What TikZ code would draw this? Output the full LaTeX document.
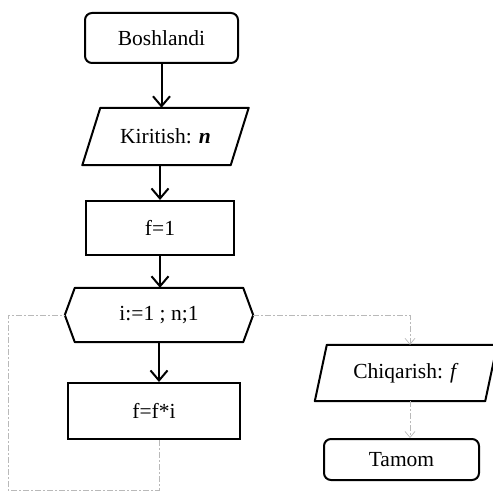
\documentclass[tikz,border=0pt]{standalone}
\usepackage{fontspec}
\setmainfont{Liberation Serif}
\usetikzlibrary{arrows.meta}
\begin{document}
\begin{tikzpicture}[x=1pt,y=-1pt,
  every node/.style={font=\fontsize{21.5}{25}\selectfont, inner sep=0pt},
  blk/.style={draw, line width=2pt, minimum width=#1},
  blk/.default=148pt,
  term/.style={draw, line width=2pt, rounded corners=7pt},
  ghost/.style={draw=none},
  shp/.style={line width=2pt, line join=round},
  arr/.style={line width=2pt, -{Straight Barb[length=10pt,width=17pt,line width=2pt]}},
  dsh/.style={gray!55, line width=0.7pt, dash pattern=on 6pt off 2pt on 2pt off 2pt},
  darr/.style={dsh, -{Straight Barb[length=6pt,width=10pt,line width=0.7pt]}}]
\useasboundingbox (0,0) rectangle (493,492);

\node[term, minimum width=153pt, minimum height=50pt] (start) at (161.5,38) {Boshlandi};
\node[ghost, minimum width=148pt, minimum height=57pt] (kir) at (165.5,136.5) {Kiritish: \textbf{\textit{n}}};
\node[blk, minimum height=54pt] (f1) at (160,228) {f=1};
\node[ghost, minimum width=168pt, minimum height=54pt] (loop) at (159,315) {i:=1 ; n;1};
\node[blk=172pt, minimum height=56pt] (body) at (154,411) {f=f*i};
\node[ghost, minimum width=170pt, minimum height=56pt] (out) at (406,373) {Chiqarish: \textit{f}};
\node[term, minimum width=155pt, minimum height=41pt] (end) at (401.5,459.5) {Tamom};

% parallelograms
\draw[shp] ([xshift=9pt]kir.north west) -- ([xshift=9pt]kir.north east) -- ([xshift=-9pt]kir.south east) -- ([xshift=-9pt]kir.south west) -- cycle;
\draw[shp] ([xshift=6pt]out.north west) -- ([xshift=6pt]out.north east) -- ([xshift=-6pt]out.south east) -- ([xshift=-6pt]out.south west) -- cycle;
% hexagon
\coordinate (hexL) at ([xshift=-10pt]loop.west);
\coordinate (hexR) at ([xshift=10pt]loop.east);
\draw[shp] (loop.north west) -- (loop.north east) -- (hexR) -- (loop.south east) -- (loop.south west) -- (hexL) -- cycle;

% solid arrows
\draw[arr] (start.south) -- (start.south |- kir.north);
\draw[arr] (f1.north |- kir.south) -- (f1.north);
\draw[arr] (f1.south) -- (f1.south |- loop.north);
\draw[arr] (loop.south) -- (loop.south |- body.north);

% loop back
\coordinate (lb) at (8,490);
\draw[dsh] (body.south -| loop.south) |- (lb) |- (hexL);

% exit
\coordinate (outin) at ([xshift=4pt]out.north);
\draw[darr] (hexR) -| (outin);
\draw[darr] ([xshift=4pt]out.south) -- ([xshift=4pt]out.south |- end.north);
\end{tikzpicture}
\end{document}
